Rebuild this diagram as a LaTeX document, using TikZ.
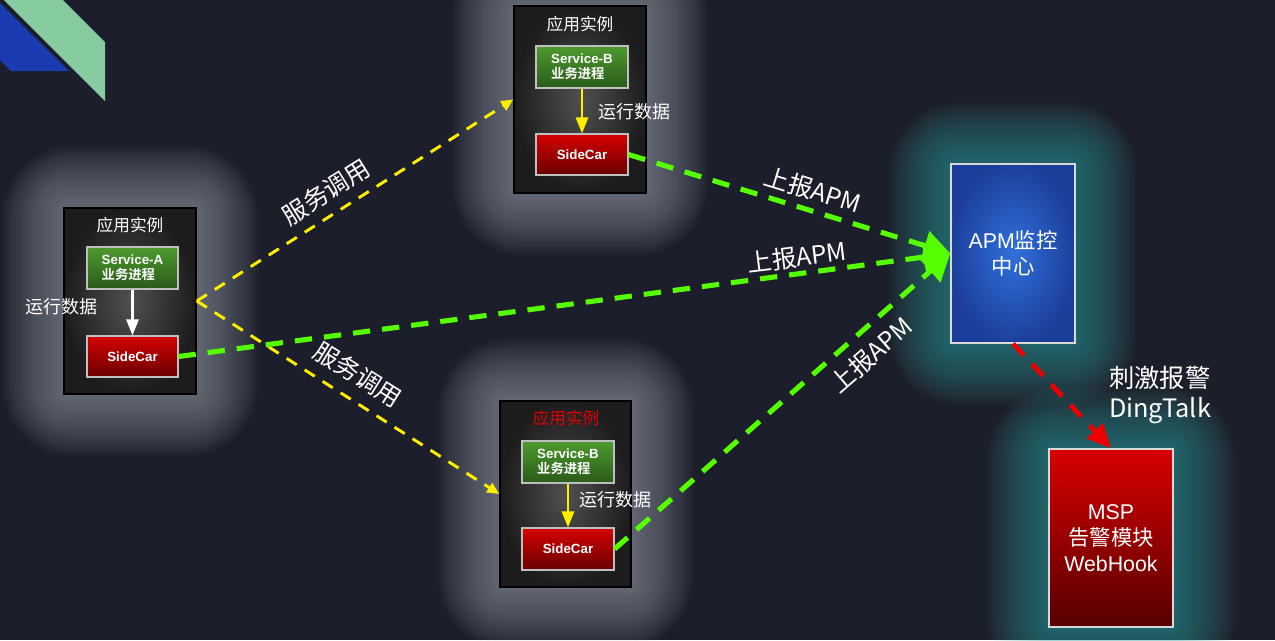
\documentclass[tikz,border=0pt]{standalone}
\usepackage{fontspec}
\setmainfont{Liberation Sans}
\newfontfamily\cjk{Noto Sans CJK SC}[BoldFont={Noto Sans CJK SC Bold}]
\usetikzlibrary{arrows.meta,calc}
\definecolor{bgc}{HTML}{1C1F2B}
\definecolor{decoblue}{HTML}{1B3CB0}
\definecolor{decogreen}{HTML}{86CBA0}
\definecolor{boxin}{HTML}{505050}
\definecolor{boxout}{HTML}{1C1C1C}
\definecolor{gtop}{HTML}{4E9A2E}
\definecolor{gbot}{HTML}{2A5A1A}
\definecolor{rtop}{HTML}{D40000}
\definecolor{rbot}{HTML}{6A0000}
\definecolor{apmin}{HTML}{3070DA}
\definecolor{apmout}{HTML}{1D3F9C}
\definecolor{msptop}{HTML}{D80000}
\definecolor{mspbot}{HTML}{560000}
\definecolor{yel}{HTML}{FFEE00}
\definecolor{lime}{HTML}{55FF00}
\definecolor{redarr}{HTML}{EE0000}
\definecolor{glowgray}{HTML}{A8AEBC}
\definecolor{glowteal}{HTML}{3FA8A8}
\definecolor{titlered}{HTML}{E00000}
\newcommand\glowbox[5]{%
  \foreach \i in {1,...,26}{%
    \fill[#5,opacity=0.032,rounded corners=\i*2pt+2pt] (#1-\i*2.4,#2-\i*2.4) rectangle (#3+\i*2.4,#4+\i*2.4);}}
\tikzset{
  appbox/.style={draw=black, line width=1.1pt, inner color=boxin, outer color=boxout, inner sep=0pt},
  svcbox/.style={draw=white!75!black, line width=0.8pt, top color=gtop, bottom color=gbot, inner sep=0pt,
    text=white, font=\bfseries\fontsize{10}{11.5}\selectfont, align=left},
  carbox/.style={draw=white!75!black, line width=0.8pt, top color=rtop, bottom color=rbot, inner sep=0pt,
    text=white, font=\bfseries\fontsize{10}{11.5}\selectfont},
  bigbox/.style={draw=white!85!black, line width=1pt, inner sep=0pt, text=white,
    font=\fontsize{16}{19.5}\selectfont, align=center},
  title/.style={text=white, font=\cjk\fontsize{12.5}{14}\selectfont},
  runlbl/.style={text=white, font=\cjk\fontsize{13.5}{16}\selectfont},
  biglbl/.style={text=white, font=\cjk\fontsize{18.5}{20}\selectfont},
  inarrow/.style={line width=2pt, -{Triangle[width=9pt,length=12pt]}},
  callarrow/.style={yel, line width=2.2pt, dash pattern=on 9pt off 7pt, -{Triangle[width=8pt,length=9pt]}},
  aparrow/.style={lime, line width=3.8pt, dash pattern=on 13pt off 9pt, -{Triangle[width=22pt,length=20pt]}},
  alarmarrow/.style={redarr, line width=3.6pt, dash pattern=on 12pt off 9pt, -{Triangle[width=16pt,length=18pt]}}
}
\begin{document}
\begin{tikzpicture}[x=0.75pt,y=-0.75pt]
\useasboundingbox (0,0) rectangle (1275,640);
\fill[bgc] (0,0) rectangle (1275,640);
% decoration
\fill[decoblue] (0,3) -- (0,60) -- (11,71) -- (69,71) -- cycle;
\fill[decogreen] (4,0) -- (63,0) -- (105,42) -- (105,101) -- cycle;
% glows
\glowbox{64}{208}{196}{394}{glowgray}
\glowbox{514}{6}{646}{193}{glowgray}
\glowbox{500}{401}{631}{587}{glowgray}
\glowbox{951}{164}{1075}{343}{glowteal}
\glowbox{1049}{449}{1173}{627}{glowteal}
% application instance A
\node[appbox, minimum width=99pt, minimum height=139.5pt] (boxA) at (130,301) {};
\node[title] (titleA) at (130,225) {应用实例};
\node[svcbox, minimum width=68.25pt, minimum height=31.5pt] (svcA) at (132.5,268) {Service-A\\{\cjk 业务进程}};
\node[carbox, minimum width=68.25pt, minimum height=30.75pt] (carA) at (132.5,356.5) {SideCar};
\draw[white, inarrow] (svcA) -- (carA);
\node[runlbl] (runA) at (62,307) {运行数据};
% application instance B1
\node[appbox, minimum width=99pt, minimum height=140.25pt] (boxB) at (580,99.5) {};
\node[title] (titleB) at (580,24) {应用实例};
\node[svcbox, minimum width=69pt, minimum height=31.5pt] (svcB) at (582,67) {Service-B\\{\cjk 业务进程}};
\node[carbox, minimum width=69pt, minimum height=30.75pt] (carB) at (582,154.5) {SideCar};
\draw[yel, inarrow] (svcB) -- (carB);
\node[runlbl] (runB) at (634,112) {运行数据};
% application instance B2
\node[appbox, minimum width=98.25pt, minimum height=139.5pt] (boxC) at (565.5,494) {};
\node[title, text=titlered] (titleC) at (566,418) {应用实例};
\node[svcbox, minimum width=69pt, minimum height=31.5pt] (svcC) at (568,462) {Service-B\\{\cjk 业务进程}};
\node[carbox, minimum width=69pt, minimum height=31.5pt] (carC) at (568,549) {SideCar};
\draw[yel, inarrow] (svcC) -- (carC);
\node[runlbl] (runC) at (615,500) {运行数据};
% APM centre
\node[bigbox, inner color=apmin, outer color=apmout, minimum width=93pt, minimum height=134.25pt] (apm) at (1013,253.5) {APM{\cjk 监控}\\{\cjk 中心}};
% MSP
\node[bigbox, top color=msptop, bottom color=mspbot, minimum width=93pt, minimum height=133.5pt] (msp) at (1111,538) {MSP\\{\cjk 告警模块}\\WebHook};
% service calls
\draw[callarrow] (boxA.east) -- (boxB.west);
\draw[callarrow] (boxA.east) -- (boxC.west);
\node[biglbl, rotate=32] (call1) at (326,192) {服务调用};
\node[biglbl, rotate=-32] (call2) at (358,375) {服务调用};
% reports
\draw[aparrow] (carB.east) -- (apm.west);
\draw[aparrow] (carA.east) -- (apm.west);
\draw[aparrow] (carC.east) -- (apm.west);
\node[biglbl, rotate=-17] (rep1) at (813,190) {上报APM};
\node[biglbl, rotate=7] (rep2) at (797,257) {上报APM};
\node[biglbl, rotate=41] (rep3) at (871,355) {上报APM};
% alarm
\draw[alarmarrow] (apm.south) -- (msp.north);
\node[text=white, font=\cjk\fontsize{19}{23}\selectfont, align=left] (alarm) at (1160,395) {刺激报警\\DingTalk};
\end{tikzpicture}
\end{document}
